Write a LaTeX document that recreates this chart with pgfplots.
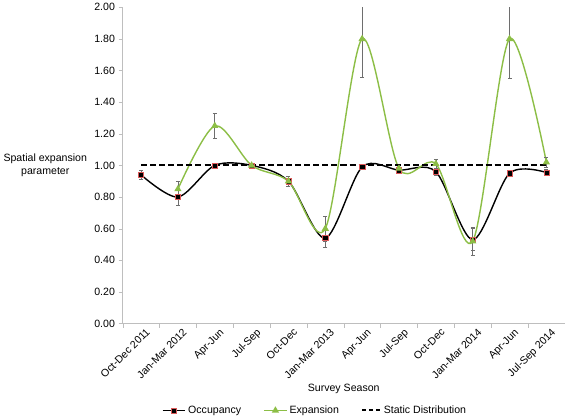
\documentclass[border=0pt]{standalone}
\usepackage{pgfplots}
\pgfplotsset{compat=1.18}
\usepackage{pgfplotstable}
\usepackage{fontspec}
\setmainfont{Liberation Sans}
\definecolor{expgreen}{RGB}{140,190,70}
\definecolor{axgray}{RGB}{190,190,190}
\definecolor{errgray}{RGB}{110,110,110}
\definecolor{mkred}{RGB}{220,90,90}

\pgfplotstableread{
x y e
0 0.94 0.03
1 0.80 0.05
2 1.00 0.01
3 1.00 0.01
4 0.90 0.03
5 0.54 0.06
6 0.99 0.01
7 0.97 0.01
8 0.96 0.02
9 0.53 0.07
10 0.95 0.02
11 0.955 0.02
}\occ

\pgfplotstableread{
x y e
1 0.85 0.05
2 1.25 0.08
3 1.00 0.01
4 0.90 0.02
5 0.60 0.08
6 1.80 0.24
7 0.98 0.02
8 1.01 0.03
9 0.52 0.09
10 1.80 0.25
11 1.02 0.03
}\expn

\begin{document}
\fontsize{10.5}{12.5}\selectfont
\begin{tikzpicture}
\begin{axis}[
  scale only axis,
  width=439pt, height=314pt,
  xmin=-0.5, xmax=11.5,
  ymin=0, ymax=2,
  ytick={0,0.2,...,2.01},
  yticklabel style={/pgf/number format/.cd, fixed, fixed zerofill, precision=2, assume math mode=true},
  xtick={0,...,11},
  xticklabels={Oct-Dec 2011,Jan-Mar 2012,Apr-Jun,Jul-Sep,Oct-Dec,Jan-Mar 2013,Apr-Jun,Jul-Sep,Oct-Dec,Jan-Mar 2014,Apr-Jun,Jul-Sep 2014},
  xticklabel style={rotate=45, anchor=north east, inner sep=1pt, xshift=4pt, yshift=-2pt},
  minor xtick={-0.5,0.5,...,11.5},
  major x tick style={draw=none},
  minor x tick style={draw=axgray},
  y tick style={draw=axgray},
  tick align=outside,
  major tick length=4pt, minor tick length=4pt,
  axis x line*=bottom, axis y line*=left,
  axis line style={draw=axgray, -},
  tick label style={font=\fontsize{10.5}{12.5}\selectfont},
  xlabel={Survey Season},
  xlabel style={at={(axis description cs:0.5,-0.207)}, anchor=center},
  ylabel={Spatial expansion\\parameter},
  ylabel style={rotate=-90, align=center, at={(axis description cs:-0.175,0.5)}, anchor=center},
  legend columns=3,
  legend style={draw=none, at={(axis description cs:0.435,-0.275)}, anchor=center, /tikz/every even column/.append style={column sep=20pt}, font=\fontsize{10.5}{12.5}\selectfont, inner sep=1pt},
  legend cell align=left,
  legend image code/.code={\draw[mark repeat=2,mark phase=2] plot coordinates {(0cm,0cm) (0.4cm,0cm) (0.8cm,0cm)};},
  clip=true,
]
\addplot[black, line width=1.4pt, smooth, tension=0.5,
  mark=square*, mark size=2.6pt, mark options={fill=black, draw=mkred, line width=0.5pt},
  error bars/.cd, y dir=both, y explicit,
  error bar style={errgray, line width=0.6pt},
  error mark options={errgray, mark size=2pt, rotate=90, line width=0.6pt}]
  table[x=x, y=y, y error=e]{\occ};
\addlegendentry{Occupancy}
\addplot[expgreen, line width=1.4pt, smooth, tension=0.5,
  mark=triangle*, mark size=2.8pt, mark options={fill=expgreen, draw=expgreen},
  error bars/.cd, y dir=both, y explicit,
  error bar style={errgray, line width=0.6pt},
  error mark options={errgray, mark size=2pt, rotate=90, line width=0.6pt}]
  table[x=x, y=y, y error=e]{\expn};
\addlegendentry{Expansion}
\addplot[black, line width=2pt, dash pattern=on 6pt off 3pt,
  legend image code/.code={\draw[dash pattern=on 4pt off 3pt] (0cm,0cm) -- (0.65cm,0cm);}] coordinates {(0,1) (11,1)};
\addlegendentry{Static Distribution}
\end{axis}
\end{tikzpicture}
\end{document}
